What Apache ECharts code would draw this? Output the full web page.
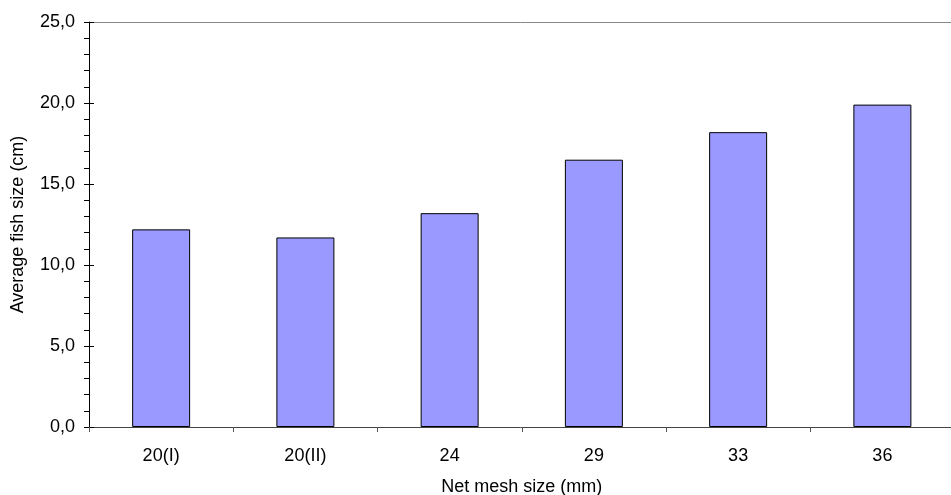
<!DOCTYPE html>
<html><head><meta charset="utf-8">
<script src="https://cdn.jsdelivr.net/npm/echarts@6/dist/echarts.min.js"></script>
<style>html,body{margin:0;padding:0;background:#fff}#c{width:951px;height:495px}</style>
</head><body><div id="c"></div>
<script>
const categories = ['20(I)', '20(II)', '24', '29', '33', '36'];
const avgFishSize = [12.2, 11.7, 13.2, 16.5, 18.2, 19.9];
const yTicks = { min: 0, max: 25, interval: 5 };
const xName = 'Net mesh size (mm)';
const yName = 'Average fish size (cm)';

const font = 'Liberation Sans, Arial, sans-serif';
const chart = echarts.init(document.getElementById('c'), null, { renderer: 'canvas' });
chart.setOption({
  animation: false,
  backgroundColor: '#fff',
  grid: { left: 89, top: 22, bottom: 68, width: 865.5, show: false,
    containLabel: false, outerBoundsMode: 'none' },
  xAxis: [{
    type: 'category', data: categories,
    axisLine: { onZero: false, lineStyle: { color: '#444', width: 1 } },
    axisTick: { show: true, length: 5, lineStyle: { color: '#555' } },
    axisLabel: { color: '#000', fontFamily: font, fontSize: 18, margin: 20 },
    name: xName, nameLocation: 'middle', nameGap: 51,
    nameTextStyle: { color: '#000', fontFamily: font, fontSize: 18 }
  }, {
    type: 'category', data: categories, position: 'top',
    axisLine: { show: true, onZero: false, lineStyle: { color: '#888', width: 1 } },
    axisTick: { show: false }, axisLabel: { show: false }
  }],
  yAxis: [{
    type: 'value', min: yTicks.min, max: yTicks.max, interval: yTicks.interval,
    axisLine: { show: true, lineStyle: { color: '#000', width: 1 } },
    axisTick: { show: true, length: 5, lineStyle: { color: '#000' } },
    minorTick: { show: true, splitNumber: 5, length: 5, lineStyle: { color: '#000' } },
    splitLine: { show: false },
    axisLabel: { color: '#000', fontFamily: font, fontSize: 18, margin: 14,
      formatter: v => v.toFixed(1).replace('.', ',') },
    name: yName, nameLocation: 'middle', nameGap: 62,
    nameTextStyle: { color: '#000', fontFamily: font, fontSize: 18 }
  }, {
    type: 'value', min: yTicks.min, max: yTicks.max, interval: yTicks.interval,
    position: 'left', offset: 0,
    axisLine: { show: false },
    axisTick: { show: true, inside: true, length: 5, lineStyle: { color: '#000' } },
    axisLabel: { show: false }, splitLine: { show: false }
  }],
  series: [{
    type: 'bar', data: avgFishSize, barWidth: 58, xAxisIndex: 0, yAxisIndex: 0,
    itemStyle: { color: '#9999FF', borderColor: '#000', borderWidth: 1 }
  }]
});
</script></body></html>
